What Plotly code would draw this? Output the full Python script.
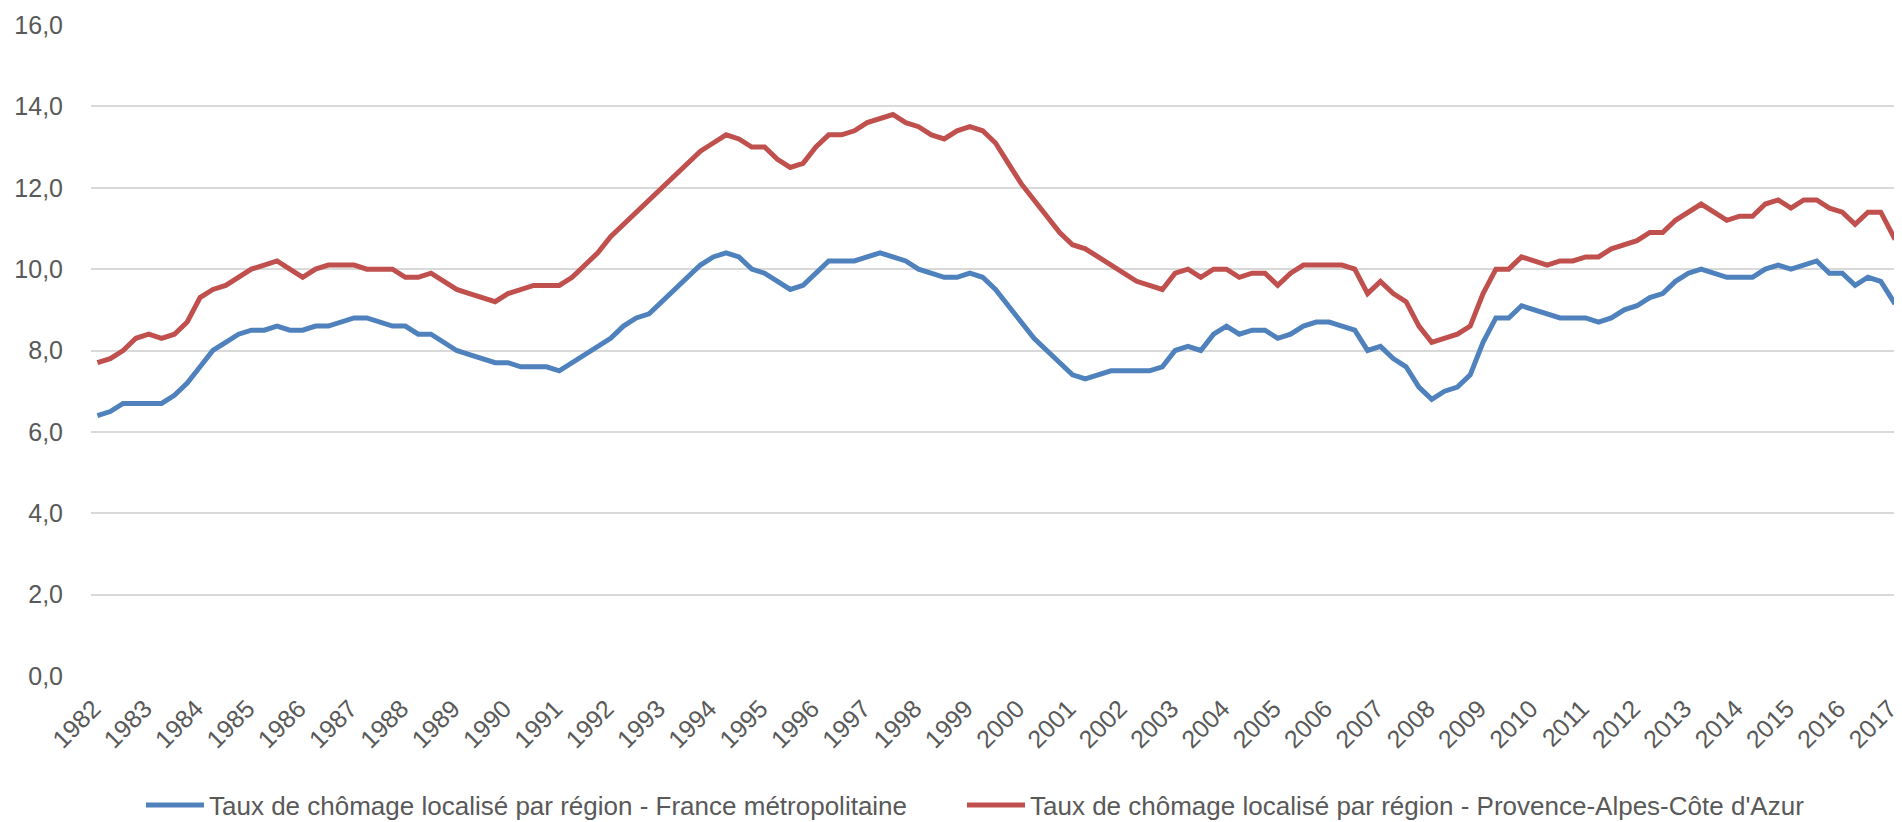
import plotly.graph_objects as go

years = list(range(1982, 2018))

france = [
    6.4, 6.5, 6.7, 6.7, 6.7, 6.7, 6.9, 7.2, 7.6, 8.0,
    8.2, 8.4, 8.5, 8.5, 8.6, 8.5, 8.5, 8.6, 8.6, 8.7,
    8.8, 8.8, 8.7, 8.6, 8.6, 8.4, 8.4, 8.2, 8.0, 7.9,
    7.8, 7.7, 7.7, 7.6, 7.6, 7.6, 7.5, 7.7, 7.9, 8.1,
    8.3, 8.6, 8.8, 8.9, 9.2, 9.5, 9.8, 10.1, 10.3, 10.4,
    10.3, 10.0, 9.9, 9.7, 9.5, 9.6, 9.9, 10.2, 10.2, 10.2,
    10.3, 10.4, 10.3, 10.2, 10.0, 9.9, 9.8, 9.8, 9.9, 9.8,
    9.5, 9.1, 8.7, 8.3, 8.0, 7.7, 7.4, 7.3, 7.4, 7.5,
    7.5, 7.5, 7.5, 7.6, 8.0, 8.1, 8.0, 8.4, 8.6, 8.4,
    8.5, 8.5, 8.3, 8.4, 8.6, 8.7, 8.7, 8.6, 8.5, 8.0,
    8.1, 7.8, 7.6, 7.1, 6.8, 7.0, 7.1, 7.4, 8.2, 8.8,
    8.8, 9.1, 9.0, 8.9, 8.8, 8.8, 8.8, 8.7, 8.8, 9.0,
    9.1, 9.3, 9.4, 9.7, 9.9, 10.0, 9.9, 9.8, 9.8, 9.8,
    10.0, 10.1, 10.0, 10.1, 10.2, 9.9, 9.9, 9.6, 9.8, 9.7,
    9.2, 9.4,
]

paca = [
    7.7, 7.8, 8.0, 8.3, 8.4, 8.3, 8.4, 8.7, 9.3, 9.5,
    9.6, 9.8, 10.0, 10.1, 10.2, 10.0, 9.8, 10.0, 10.1, 10.1,
    10.1, 10.0, 10.0, 10.0, 9.8, 9.8, 9.9, 9.7, 9.5, 9.4,
    9.3, 9.2, 9.4, 9.5, 9.6, 9.6, 9.6, 9.8, 10.1, 10.4,
    10.8, 11.1, 11.4, 11.7, 12.0, 12.3, 12.6, 12.9, 13.1, 13.3,
    13.2, 13.0, 13.0, 12.7, 12.5, 12.6, 13.0, 13.3, 13.3, 13.4,
    13.6, 13.7, 13.8, 13.6, 13.5, 13.3, 13.2, 13.4, 13.5, 13.4,
    13.1, 12.6, 12.1, 11.7, 11.3, 10.9, 10.6, 10.5, 10.3, 10.1,
    9.9, 9.7, 9.6, 9.5, 9.9, 10.0, 9.8, 10.0, 10.0, 9.8,
    9.9, 9.9, 9.6, 9.9, 10.1, 10.1, 10.1, 10.1, 10.0, 9.4,
    9.7, 9.4, 9.2, 8.6, 8.2, 8.3, 8.4, 8.6, 9.4, 10.0,
    10.0, 10.3, 10.2, 10.1, 10.2, 10.2, 10.3, 10.3, 10.5, 10.6,
    10.7, 10.9, 10.9, 11.2, 11.4, 11.6, 11.4, 11.2, 11.3, 11.3,
    11.6, 11.7, 11.5, 11.7, 11.7, 11.5, 11.4, 11.1, 11.4, 11.4,
    10.8, 11.1,
]

name_fr = "Taux de chômage localisé par région - France métropolitaine"
name_paca = "Taux de chômage localisé par région - Provence-Alpes-Côte d'Azur"

quarters = list(range(len(france)))
tickvals = [4 * k for k in range(len(years))]
ticktext = [str(y) for y in years]
yticks = [0, 2, 4, 6, 8, 10, 12, 14, 16]

FONT = "Liberation Sans, Arial, sans-serif"
GREY = "#595959"

fig = go.Figure()
fig.add_trace(go.Scatter(x=quarters, y=france, mode="lines", name=name_fr,
                         line=dict(color="#4F81BD", width=5), legend="legend"))
fig.add_trace(go.Scatter(x=quarters, y=paca, mode="lines", name=name_paca,
                         line=dict(color="#C0504D", width=5), legend="legend2"))

# the page body has an 8px margin, so the figure is drawn 8px smaller
OFF = 8
W, H = 1902 - OFF, 822 - OFF
L, R, T = 91 - OFF, 0, 25 - OFF
B = H - (676 - OFF)
plot_w = W - L - R
plot_h = H - T - B
xmax = plot_w / 12.83 - 0.5
leg_y = (676 - 805) / plot_h

fig.update_layout(
    width=W, height=H,
    margin=dict(l=L, r=R, t=T, b=B, autoexpand=False),
    paper_bgcolor="white", plot_bgcolor="white",
    font=dict(family=FONT, color=GREY, size=26),
    xaxis=dict(range=[-0.5, xmax], tickmode="array", tickvals=tickvals, ticktext=ticktext,
               tickangle=-45, showgrid=False, zeroline=False, showline=False,
               tickfont=dict(size=25, color=GREY, family=FONT), ticks="", ticklabelstandoff=12,
               ticklabelshift=-4, ticklabeloverflow="allow"),
    yaxis=dict(range=[0, 16], tickmode="array", tickvals=yticks,
               ticktext=[f"{v:.1f}".replace(".", ",") for v in yticks],
               showgrid=True, gridcolor="#d9d9d9", gridwidth=1.5, zeroline=False, showline=False,
               tickfont=dict(size=25, color=GREY, family=FONT), ticks="", ticklabelstandoff=27),
    legend=dict(orientation="h", x=(141 - 91) / plot_w, xanchor="left", y=leg_y, yanchor="middle",
                itemwidth=58,
                font=dict(size=26, color=GREY, family=FONT), bgcolor="rgba(0,0,0,0)"),
    legend2=dict(orientation="h", x=(962 - 91) / plot_w, xanchor="left", y=leg_y, yanchor="middle",
                 itemwidth=58,
                 font=dict(size=26, color=GREY, family=FONT), bgcolor="rgba(0,0,0,0)"),
    showlegend=True,
)

fig.write_html("out.html")
